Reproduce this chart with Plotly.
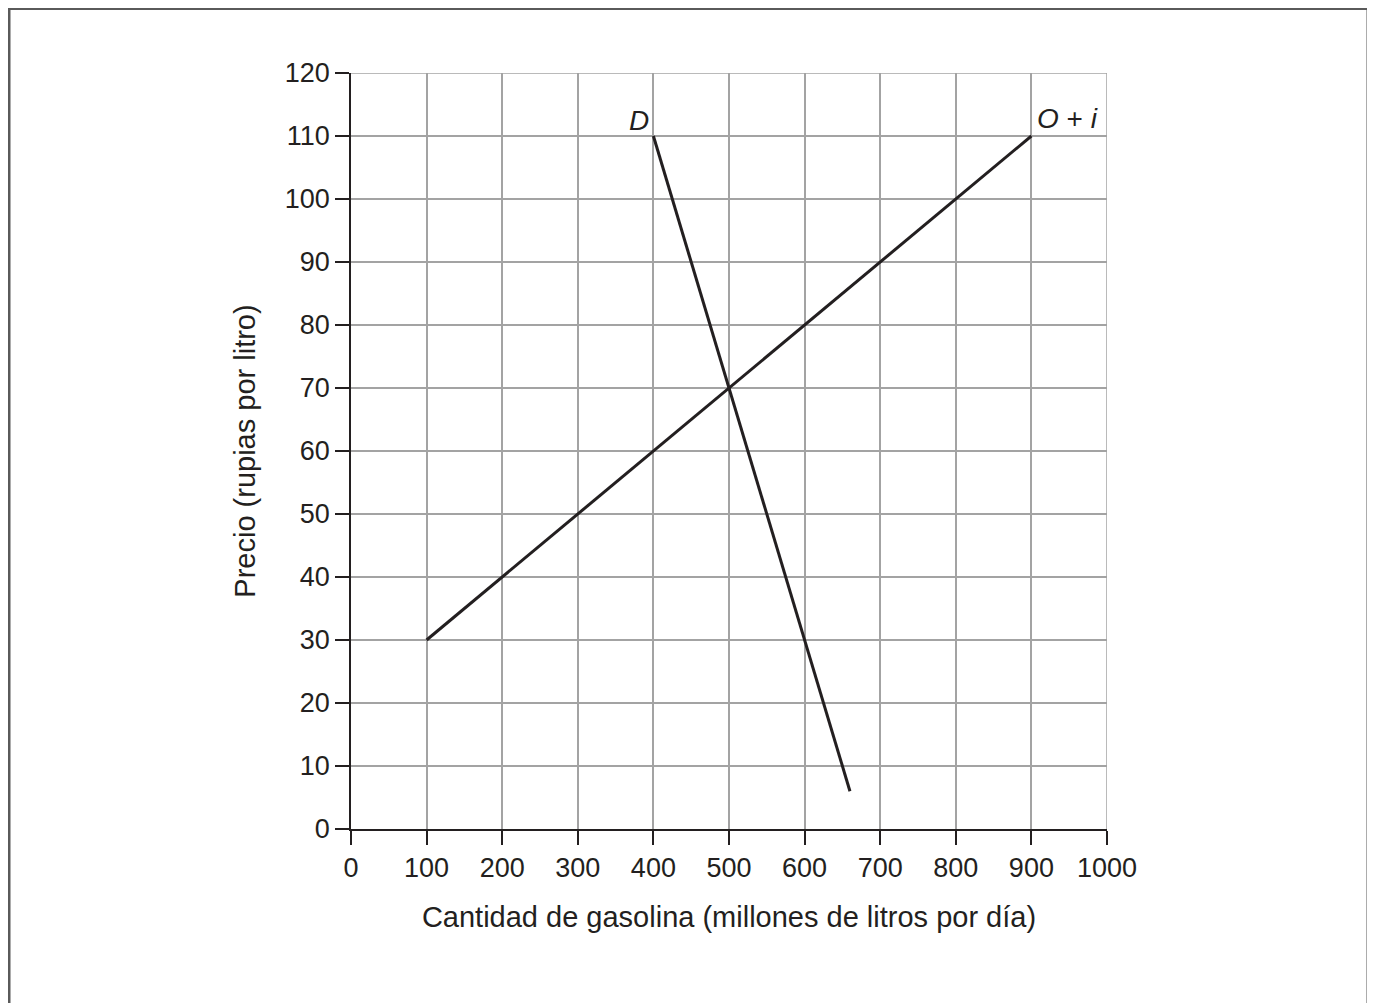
import plotly.graph_objects as go

x_ticks = [0, 100, 200, 300, 400, 500, 600, 700, 800, 900, 1000]
y_ticks = [0, 10, 20, 30, 40, 50, 60, 70, 80, 90, 100, 110, 120]

demand_q = [400, 660]
demand_p = [110, 6]
supply_q = [100, 900]
supply_p = [30, 110]

FONT = "Liberation Sans, Arial, sans-serif"
INK = "#231f20"
GRID = "#a3a3a3"

W, H = 1367, 995
L, T, PW, PH = 343, 65, 756, 756

fig = go.Figure()
fig.add_trace(go.Scatter(x=supply_q, y=supply_p, mode="lines",
                         line=dict(color=INK, width=3), showlegend=False))
fig.add_trace(go.Scatter(x=demand_q, y=demand_p, mode="lines",
                         line=dict(color=INK, width=3), showlegend=False))

fig.add_annotation(x=demand_q[0], y=demand_p[0], text="<i>D</i>", showarrow=False,
                   xanchor="right", yanchor="bottom", xshift=-2, yshift=-2,
                   font=dict(size=28, color=INK, family=FONT))
fig.add_annotation(x=supply_q[-1], y=supply_p[-1], text="<i>O</i> + <i>i</i>", showarrow=False,
                   xanchor="left", yanchor="bottom", xshift=4, yshift=0,
                   font=dict(size=28, color=INK, family=FONT))

# edge gridlines (plotly hides gridlines at range ends)
fig.add_shape(type="line", xref="x", yref="y", x0=x_ticks[0], x1=x_ticks[-1],
              y0=y_ticks[-1], y1=y_ticks[-1], line=dict(color=GRID, width=1.5), layer="below")
fig.add_shape(type="line", xref="x", yref="y", x0=x_ticks[-1], x1=x_ticks[-1],
              y0=y_ticks[0], y1=y_ticks[-1], line=dict(color=GRID, width=1.5), layer="below")

fig.update_layout(
    width=W, height=H,
    margin=dict(l=L, r=W - L - PW, t=T, b=H - T - PH),
    paper_bgcolor="white", plot_bgcolor="white",
    font=dict(family=FONT, size=27, color=INK),
    xaxis=dict(range=[x_ticks[0], x_ticks[-1]], tickvals=x_ticks, ticks="outside", ticklen=14,
               tickcolor=INK, tickwidth=1.5, showline=True, linecolor=INK,
               linewidth=1.6, showgrid=True, gridcolor=GRID, gridwidth=1.5,
               zeroline=False, tickfont=dict(size=27),
               title=dict(text="Cantidad de gasolina (millones de litros por día)",
                          font=dict(size=29), standoff=24)),
    yaxis=dict(range=[y_ticks[0], y_ticks[-1]], tickvals=y_ticks, ticks="outside", ticklen=14,
               tickcolor=INK, tickwidth=1.5, showline=True, linecolor=INK,
               linewidth=1.6, showgrid=True, gridcolor=GRID, gridwidth=1.5,
               zeroline=False, tickfont=dict(size=27),
               title=dict(text="Precio (rupias por litro)", font=dict(size=29), standoff=21)),
)

# outer frame (figure coords -> paper coords); bottom edge lies below the visible area
def px(xp):
    return (xp - L) / PW

def py(yp):
    return (T + PH - yp) / PH

fig.add_shape(type="rect", xref="paper", yref="paper",
              x0=px(1), x1=px(1360), y0=py(1010), y1=py(0.5),
              line=dict(color="#5a5a5a", width=3), layer="below")

fig.write_html("out.html")
